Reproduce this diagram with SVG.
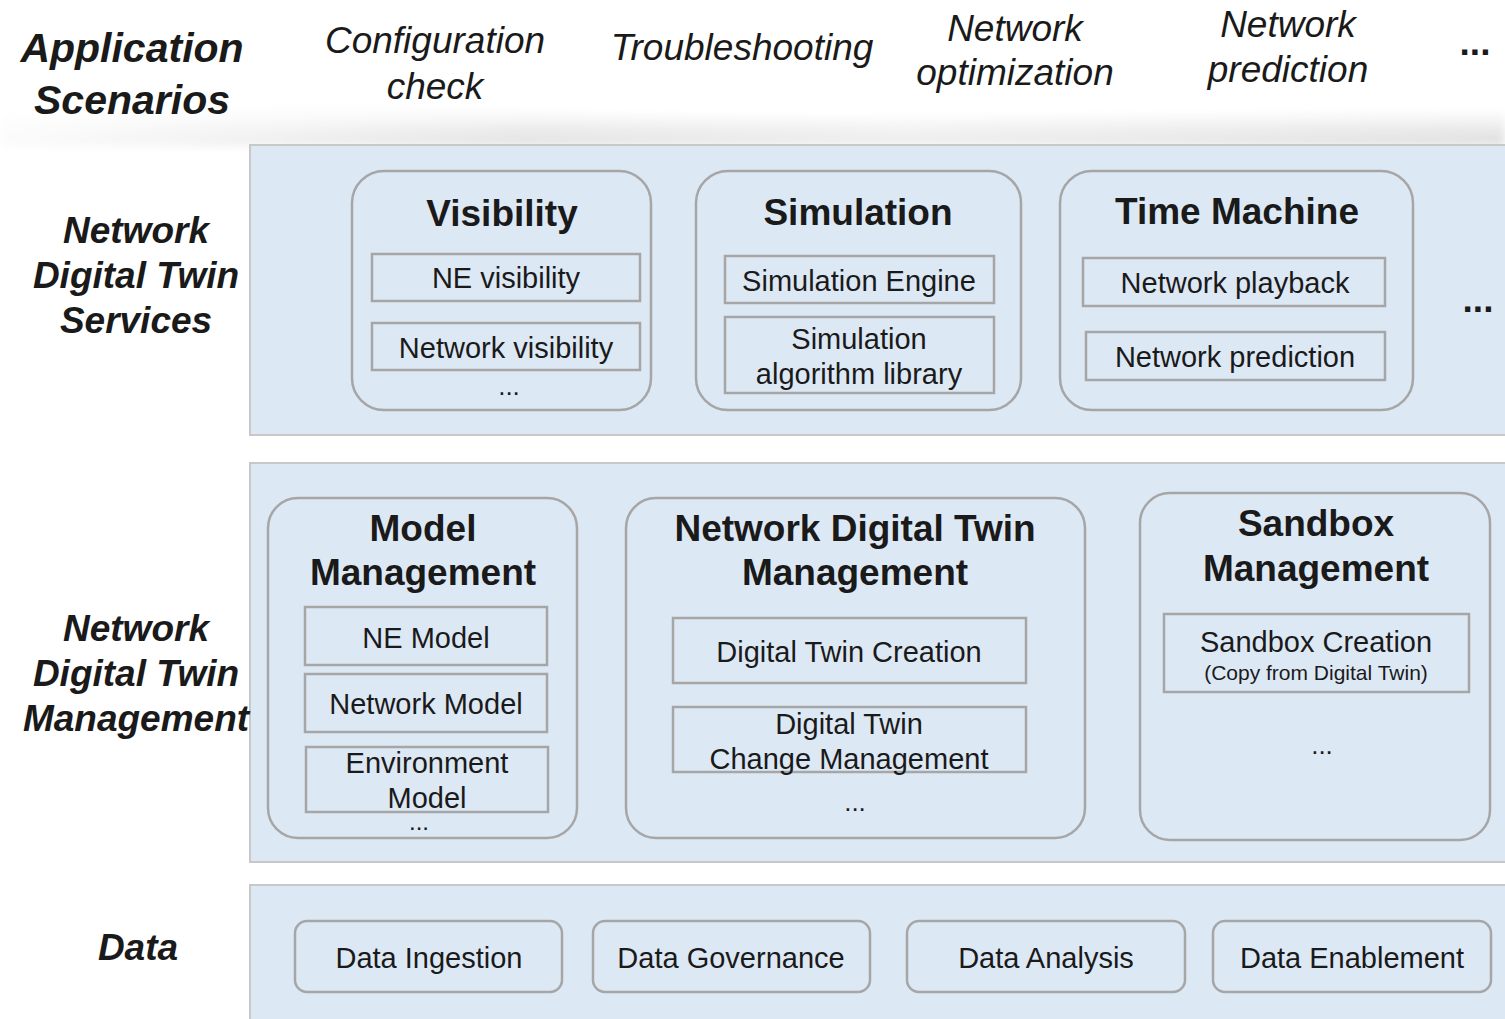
<svg xmlns="http://www.w3.org/2000/svg" width="1505" height="1019" viewBox="0 0 1505 1019">
<defs>
<linearGradient id="swoosh" x1="0" y1="0" x2="0" y2="1">
<stop offset="0" stop-color="#ffffff" stop-opacity="0"/>
<stop offset="0.6" stop-color="#e6e6e6" stop-opacity="0.9"/>
<stop offset="1" stop-color="#d9d9d9" stop-opacity="1"/>
</linearGradient>
<linearGradient id="swooshH" x1="0" y1="0" x2="1" y2="0">
<stop offset="0" stop-color="#ffffff" stop-opacity="0.9"/>
<stop offset="0.35" stop-color="#ffffff" stop-opacity="0.2"/>
<stop offset="0.6" stop-color="#ffffff" stop-opacity="0.5"/>
<stop offset="1" stop-color="#ffffff" stop-opacity="0.1"/>
</linearGradient>
<filter id="blur" x="-5%" y="-50%" width="110%" height="200%"><feGaussianBlur stdDeviation="4"/></filter>
</defs>
<style>
.band{fill:#dde8f5;stroke:#c8c8c8;stroke-width:2}
.node{fill:#dde8f5;stroke:#a6a6a6;stroke-width:2.5}
.sub{fill:#dde8f5;stroke:#a6a6a6;stroke-width:2.5}
text{font-family:"Liberation Sans",Arial,sans-serif;fill:#1a1a1a;text-anchor:middle}
.lbl{font-size:37px;font-weight:bold;font-style:italic}
.lblbig{font-size:41px;font-weight:bold;font-style:italic}
.scen{font-size:37px;font-style:italic}
.title{font-size:37px;font-weight:bold}
.txt{font-size:29px}
.small{font-size:21px}
.dots{font-size:26px}
.bigdots{font-size:37px;font-weight:bold}
</style>
<rect width="1505" height="1019" fill="#ffffff"/>
<g id="swoosh-bg" filter="url(#blur)">
<path d="M0,100 C300,95 600,120 900,118 C1150,116 1350,110 1505,112 L1505,146 L0,146 Z" fill="url(#swoosh)"/>
<path d="M0,100 C300,95 600,120 900,118 C1150,116 1350,110 1505,112 L1505,146 L0,146 Z" fill="url(#swooshH)"/>
</g>
<g id="scenarios">
<text class="lblbig" x="132" y="62">Application</text>
<text class="lblbig" x="132" y="114">Scenarios</text>
<text class="scen" x="435" y="53">Configuration</text>
<text class="scen" x="435" y="99">check</text>
<text class="scen" x="742" y="60">Troubleshooting</text>
<text class="scen" x="1015" y="41">Network</text>
<text class="scen" x="1015" y="85">optimization</text>
<text class="scen" x="1288" y="37">Network</text>
<text class="scen" x="1288" y="82">prediction</text>
<text class="bigdots" x="1475" y="55">...</text>
</g>
<g id="bands">
<rect class="band" x="250" y="145" width="1265" height="290"/>
<rect class="band" x="250" y="463" width="1265" height="399"/>
<rect class="band" x="250" y="885" width="1265" height="150"/>
</g>
<g id="layer-labels">
<text class="lbl" x="136" y="243">Network</text>
<text class="lbl" x="136" y="288">Digital Twin</text>
<text class="lbl" x="136" y="333">Services</text>
<text class="lbl" x="136" y="641">Network</text>
<text class="lbl" x="136" y="686">Digital Twin</text>
<text class="lbl" x="136" y="731">Management</text>
<text class="lbl" x="138" y="960">Data</text>
</g>
<g id="visibility">
<rect class="node" x="352" y="171" width="299" height="239" rx="32"/>
<text class="title" x="502" y="226">Visibility</text>
<rect class="sub" x="372" y="254" width="268" height="47"/>
<text class="txt" x="506" y="288">NE visibility</text>
<rect class="sub" x="372" y="323" width="268" height="47"/>
<text class="txt" x="506" y="358">Network visibility</text>
<text class="dots" x="509" y="395">...</text>
</g>
<g id="simulation">
<rect class="node" x="696" y="171" width="325" height="239" rx="32"/>
<text class="title" x="858" y="225">Simulation</text>
<rect class="sub" x="725" y="256" width="269" height="47"/>
<text class="txt" x="859" y="291">Simulation Engine</text>
<rect class="sub" x="725" y="317" width="269" height="76"/>
<text class="txt" x="859" y="349">Simulation</text>
<text class="txt" x="859" y="384">algorithm library</text>
</g>
<g id="time-machine">
<rect class="node" x="1060" y="171" width="353" height="239" rx="32"/>
<text class="title" x="1237" y="224">Time Machine</text>
<rect class="sub" x="1083" y="258" width="302" height="48"/>
<text class="txt" x="1235" y="293">Network playback</text>
<rect class="sub" x="1086" y="332" width="299" height="48"/>
<text class="txt" x="1235" y="367">Network prediction</text>
</g>
<g id="services-more">
<text class="bigdots" x="1478" y="312">...</text>
</g>
<g id="model-management">
<rect class="node" x="268" y="498" width="309" height="340" rx="30"/>
<text class="title" x="423" y="541">Model</text>
<text class="title" x="423" y="585">Management</text>
<rect class="sub" x="305" y="607" width="242" height="58"/>
<text class="txt" x="426" y="648">NE Model</text>
<rect class="sub" x="305" y="674" width="242" height="58"/>
<text class="txt" x="426" y="714">Network Model</text>
<rect class="sub" x="306" y="747" width="242" height="65"/>
<text class="txt" x="427" y="773">Environment</text>
<text class="txt" x="427" y="808">Model</text>
<text class="dots" x="419" y="830" style="font-size:24px">...</text>
</g>
<g id="ndt-management">
<rect class="node" x="626" y="498" width="459" height="340" rx="30"/>
<text class="title" x="855" y="541">Network Digital Twin</text>
<text class="title" x="855" y="585">Management</text>
<rect class="sub" x="673" y="618" width="353" height="65"/>
<text class="txt" x="849" y="662">Digital Twin Creation</text>
<rect class="sub" x="673" y="707" width="353" height="65"/>
<text class="txt" x="849" y="734">Digital Twin</text>
<text class="txt" x="849" y="769">Change Management</text>
<text class="dots" x="855" y="811">...</text>
</g>
<g id="sandbox-management">
<rect class="node" x="1140" y="493" width="350" height="347" rx="30"/>
<text class="title" x="1316" y="536">Sandbox</text>
<text class="title" x="1316" y="581">Management</text>
<rect class="sub" x="1164" y="614" width="305" height="78"/>
<text class="txt" x="1316" y="652">Sandbox Creation</text>
<text class="small" x="1316" y="680">(Copy from Digital Twin)</text>
<text class="dots" x="1322" y="754">...</text>
</g>
<g id="data-ingestion">
<rect class="node" x="295" y="921" width="267" height="71" rx="12"/>
<text class="txt" x="429" y="968">Data Ingestion</text>
</g>
<g id="data-governance">
<rect class="node" x="593" y="921" width="277" height="71" rx="12"/>
<text class="txt" x="731" y="968">Data Governance</text>
</g>
<g id="data-analysis">
<rect class="node" x="907" y="921" width="278" height="71" rx="12"/>
<text class="txt" x="1046" y="968">Data Analysis</text>
</g>
<g id="data-enablement">
<rect class="node" x="1213" y="921" width="278" height="71" rx="12"/>
<text class="txt" x="1352" y="968">Data Enablement</text>
</g>
<g id="connectors"/>
</svg>
